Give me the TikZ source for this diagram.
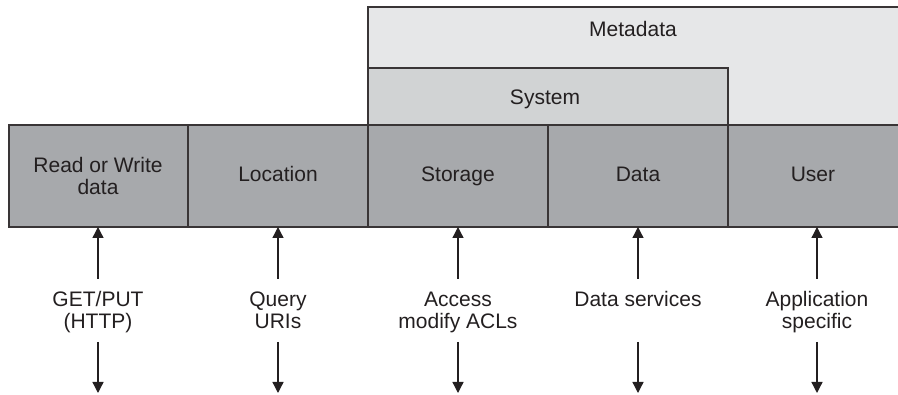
\documentclass[tikz,border=0pt]{standalone}
\usepackage{fontspec}
\setmainfont{Liberation Sans}
\usetikzlibrary{arrows.meta}
\definecolor{boxgray}{HTML}{A7A9AC}
\definecolor{sysgray}{HTML}{D1D3D4}
\definecolor{metagray}{HTML}{E6E7E8}
\definecolor{ink}{HTML}{231F20}
\begin{document}
\begin{tikzpicture}[x=1pt,y=-1pt,
  font=\fontsize{21}{22}\selectfont,
  layer/.style={draw=ink!90, line width=1.3pt, inner sep=0pt, outer sep=0pt, anchor=north west},
  lbl/.style={text=ink, align=center, inner sep=0pt, anchor=base},
  arr/.style={draw=ink, line width=1.3pt, -{Triangle[width=11pt,length=11pt]}}]
\useasboundingbox (0,0) rectangle (898,395);
% upper layers
\node[layer, fill=metagray, minimum width=540pt, minimum height=118pt] (meta) at (368,7) {};
\node[lbl] (metat) at (633,37) {Metadata};
\node[layer, fill=sysgray, minimum width=360pt, minimum height=57pt] (sys) at (368,68) {};
\node[lbl] (syst) at (545,105) {System};
% bottom row
\node[layer, fill=boxgray, minimum width=179pt, minimum height=102pt] (r1) at (9,125) {};
\node[layer, fill=boxgray, minimum width=180pt, minimum height=102pt] (r2) at (188,125) {};
\node[layer, fill=boxgray, minimum width=180pt, minimum height=102pt] (r3) at (368,125) {};
\node[layer, fill=boxgray, minimum width=180pt, minimum height=102pt] (r4) at (548,125) {};
\node[layer, fill=boxgray, minimum width=180pt, minimum height=102pt] (r5) at (728,125) {};
\node[lbl] (r1t) at (98,195) {Read or Write\\data};
\node[lbl] (r2t) at (278,182) {Location};
\node[lbl] (r3t) at (458,182) {Storage};
\node[lbl] (r4t) at (638,182) {Data};
\node[lbl] (r5t) at (813,182) {User};
% labels below
\node[lbl] (l1) at (98,329) {GET/PUT\\(HTTP)};
\node[lbl] (l2) at (278,329) {Query\\URIs};
\node[lbl] (l3) at (458,329) {Access\\modify ACLs};
\node[lbl] (l4) at (638,307) {Data services};
\node[lbl] (l5) at (817,329) {Application\\specific};
% arrows
\foreach \i/\x in {1/98,2/278,3/458,4/638,5/817}{
  \coordinate (u\i) at (\x,279);
  \coordinate (ds\i) at (\x,342);
  \coordinate (de\i) at (\x,393);
  \draw[arr] (u\i) -- (u\i |- r\i.south);
  \draw[arr] (ds\i) -- (de\i);
}
\end{tikzpicture}
\end{document}
